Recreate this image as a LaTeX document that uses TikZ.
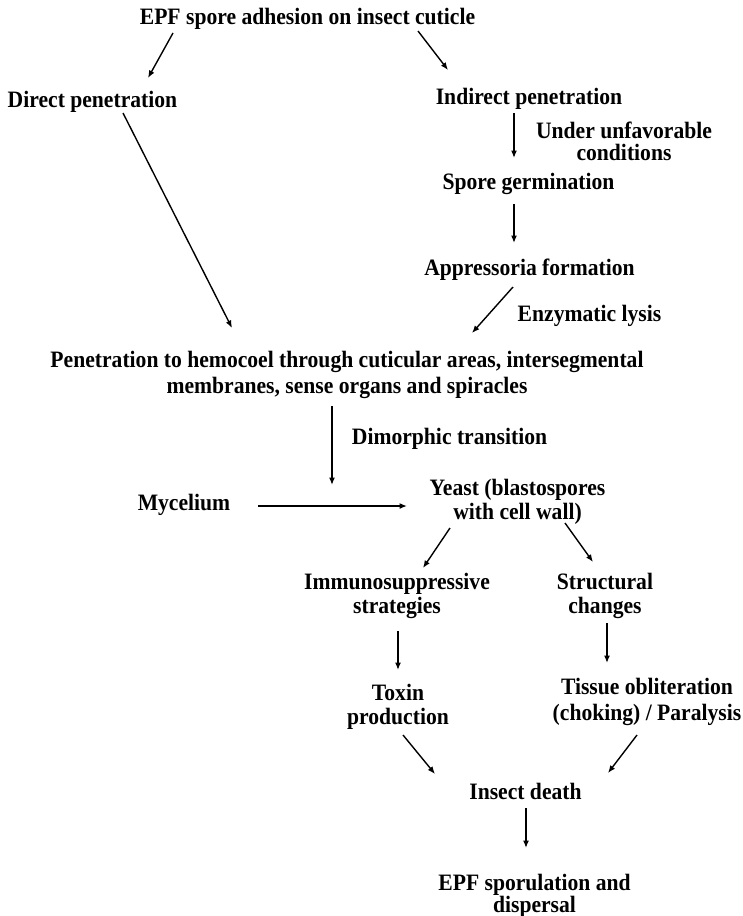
\documentclass[tikz,border=0pt]{standalone}
\usepackage{fontspec}
\setmainfont[FakeStretch=0.92]{Liberation Serif}
\usetikzlibrary{arrows.meta}
\newcommand{\twol}[3][0pt]{\begin{tabular}[t]{@{}c@{}}#2\\[#1]#3\end{tabular}}
\begin{document}
\begin{tikzpicture}[x=1pt,y=-1pt,
  lbl/.style={anchor=base,inner sep=0pt,font=\fontsize{23.5}{24}\selectfont\bfseries},
  arr/.style={line width=1.4pt,-{Latex[length=7.5pt,width=6pt]}}]
\useasboundingbox (0,0) rectangle (743,916);
\node[lbl] (t) at (307.5,24) {EPF spore adhesion on insect cuticle};
\node[lbl] (dp) at (92.5,107) {Direct penetration};
\node[lbl] (ip) at (529,104) {Indirect penetration};
\node[lbl] (uc) at (624,138) {\twol[-2pt]{Under unfavorable}{conditions}};
\node[lbl] (sg) at (528.5,189) {Spore germination};
\node[lbl] (af) at (529.5,275) {Appressoria formation};
\node[lbl] (el) at (589.5,321) {Enzymatic lysis};
\node[lbl] (pen) at (347,367) {\twol[2pt]{Penetration to hemocoel through cuticular areas, intersegmental}{membranes, sense organs and spiracles}};
\node[lbl] (dt) at (449.5,444) {Dimorphic transition};
\node[lbl] (my) at (184,510) {Mycelium};
\node[lbl] (ye) at (517.5,495) {\twol{Yeast (blastospores}{with cell wall)}};
\node[lbl] (im) at (397,589) {\twol{Immunosuppressive}{strategies}};
\node[lbl] (st) at (605,589) {\twol{Structural}{changes}};
\node[lbl] (tx) at (398,700) {\twol{Toxin}{production}};
\node[lbl] (ti) at (647,694) {\twol[2pt]{Tissue obliteration}{(choking) / Paralysis}};
\node[lbl] (id) at (525.5,799) {Insect death};
\node[lbl] (es) at (534.5,890) {\twol[-2pt]{EPF sporulation and}{dispersal}};
\coordinate (dte) at (332,485);
\draw[arr] ([shift={(-134.5,9)}]t.base) -- ([shift={(55.5,-29)}]dp.base);
\draw[arr] ([shift={(110.5,7)}]t.base) -- ([shift={(-81,-34)}]ip.base);
\draw[arr] ([shift={(-15,9)}]ip.base) -- ([shift={(-14.5,-31)}]sg.base);
\draw[arr] ([shift={(-14.5,15)}]sg.base) -- ([shift={(-15.5,-32)}]af.base);
\draw[arr] ([shift={(-16.5,12)}]af.base) -- ([shift={(125,-34)}]pen.base);
\draw[arr] ([shift={(30.5,6)}]dp.base) -- ([shift={(-115,-39)}]pen.base);
\draw[arr] ([shift={(-15,39)}]pen.base) -- (dte);
\draw[arr] ([shift={(74,-4)}]my.base) -- ([shift={(-110.5,11)}]ye.base);
\draw[arr] ([shift={(-67.5,33)}]ye.base) -- ([shift={(26,-21)}]im.base);
\draw[arr] ([shift={(47.5,28)}]ye.base) -- ([shift={(-12,-27)}]st.base);
\draw[arr] ([shift={(1,42)}]im.base) -- ([shift={(0,-30)}]tx.base);
\draw[arr] ([shift={(2,34)}]st.base) -- ([shift={(-40,-31)}]ti.base);
\draw[arr] ([shift={(5,35)}]tx.base) -- ([shift={(-90.5,-25)}]id.base);
\draw[arr] ([shift={(-10,41)}]ti.base) -- ([shift={(82.5,-26)}]id.base);
\draw[arr] ([shift={(0.5,9)}]id.base) -- ([shift={(-8.5,-42)}]es.base);
\end{tikzpicture}
\end{document}
